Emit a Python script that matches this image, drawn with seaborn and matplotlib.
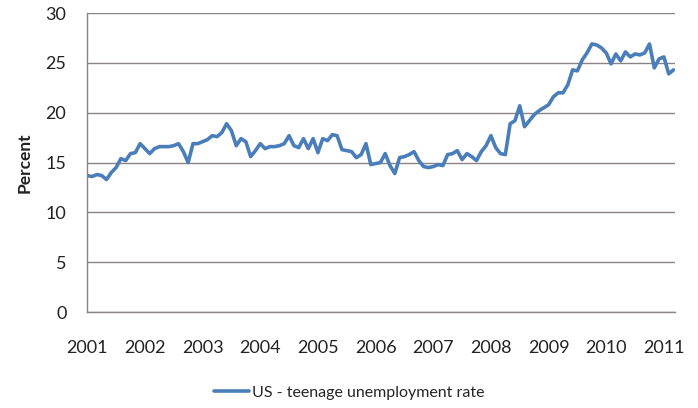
import matplotlib
matplotlib.use("Agg")
import matplotlib.pyplot as plt
import seaborn as sns
import pandas as pd
import numpy as np

years = ["2001", "2002", "2003", "2004", "2005", "2006", "2007", "2008", "2009", "2010", "2011"]

rate_2001 = [13.7, 13.6, 13.8, 13.7, 13.3, 14.0, 14.5, 15.4, 15.2, 15.9, 16.0, 16.9]
rate_2002 = [16.4, 15.9, 16.4, 16.6, 16.6, 16.6, 16.7, 16.9, 16.1, 15.0, 16.9, 16.9]
rate_2003 = [17.1, 17.3, 17.7, 17.6, 18.0, 18.9, 18.2, 16.7, 17.4, 17.1, 15.6, 16.2]
rate_2004 = [16.9, 16.4, 16.6, 16.6, 16.7, 16.9, 17.7, 16.7, 16.5, 17.4, 16.4, 17.4]
rate_2005 = [16.0, 17.4, 17.2, 17.8, 17.7, 16.3, 16.2, 16.1, 15.5, 15.8, 16.9, 14.8]
rate_2006 = [14.9, 15.0, 15.9, 14.7, 13.9, 15.5, 15.6, 15.8, 16.1, 15.2, 14.6, 14.5]
rate_2007 = [14.6, 14.8, 14.7, 15.8, 15.9, 16.2, 15.3, 15.9, 15.6, 15.2, 16.1, 16.7]
rate_2008 = [17.7, 16.5, 15.9, 15.8, 18.9, 19.2, 20.7, 18.6, 19.2, 19.8, 20.2, 20.5]
rate_2009 = [20.8, 21.6, 22.0, 22.0, 22.8, 24.3, 24.2, 25.3, 26.0, 26.9, 26.8, 26.5]
rate_2010 = [26.0, 24.9, 25.9, 25.2, 26.1, 25.6, 25.9, 25.8, 26.0, 26.9, 24.5, 25.4]
rate_2011 = [25.6, 23.9, 24.3]

series_name = "US - teenage unemployment rate"

values = (rate_2001 + rate_2002 + rate_2003 + rate_2004 + rate_2005 + rate_2006
          + rate_2007 + rate_2008 + rate_2009 + rate_2010 + rate_2011)
df = pd.DataFrame({"month": np.arange(len(values)), "rate": values, "series": series_name})

sns.set_theme(style="white")
plt.rcParams["font.family"] = ["Lato", "DejaVu Sans"]

grid_col = "#8c8282"
line_col = "#4a7ebb"
text_col = "#222222"

fig = plt.figure(figsize=(6.98, 4.08), dpi=100)
ax = fig.add_axes([0.125, 0.235, 0.842, 0.733])

sns.lineplot(data=df, x="month", y="rate", hue="series", palette=[line_col],
             linewidth=2.6, ax=ax, legend=False)

ax.set_ylim(0, 30)
ax.set_xlim(0, 122.3)
ax.set_yticks(range(0, 31, 5))
ax.set_xticks(np.arange(0, 121, 12))
ax.set_xticklabels(years)
ax.yaxis.grid(True, color=grid_col, linewidth=1.0)
ax.xaxis.grid(False)
ax.set_axisbelow(True)

for s in ["top", "right"]:
    ax.spines[s].set_visible(False)
for s in ["left", "bottom"]:
    ax.spines[s].set_color(grid_col)
    ax.spines[s].set_linewidth(1.0)

ax.tick_params(axis="y", which="major", direction="out", length=6, width=1,
               color=grid_col, labelsize=13, labelcolor=text_col, pad=9)
ax.tick_params(axis="x", which="major", direction="out", length=6, width=1,
               color=grid_col, labelsize=13, labelcolor=text_col, pad=14)
ax.set_xlabel("")
ax.set_ylabel("Percent", fontsize=12.5, fontweight="bold", color=text_col, labelpad=9)

handle = plt.Line2D([], [], color=line_col, linewidth=2.6)
fig.legend([handle], [series_name], loc="center", bbox_to_anchor=(0.5, 0.037),
           frameon=False, fontsize=11.5, handlelength=2.2, handletextpad=0.2)

fig.savefig("out.png", dpi=100)
